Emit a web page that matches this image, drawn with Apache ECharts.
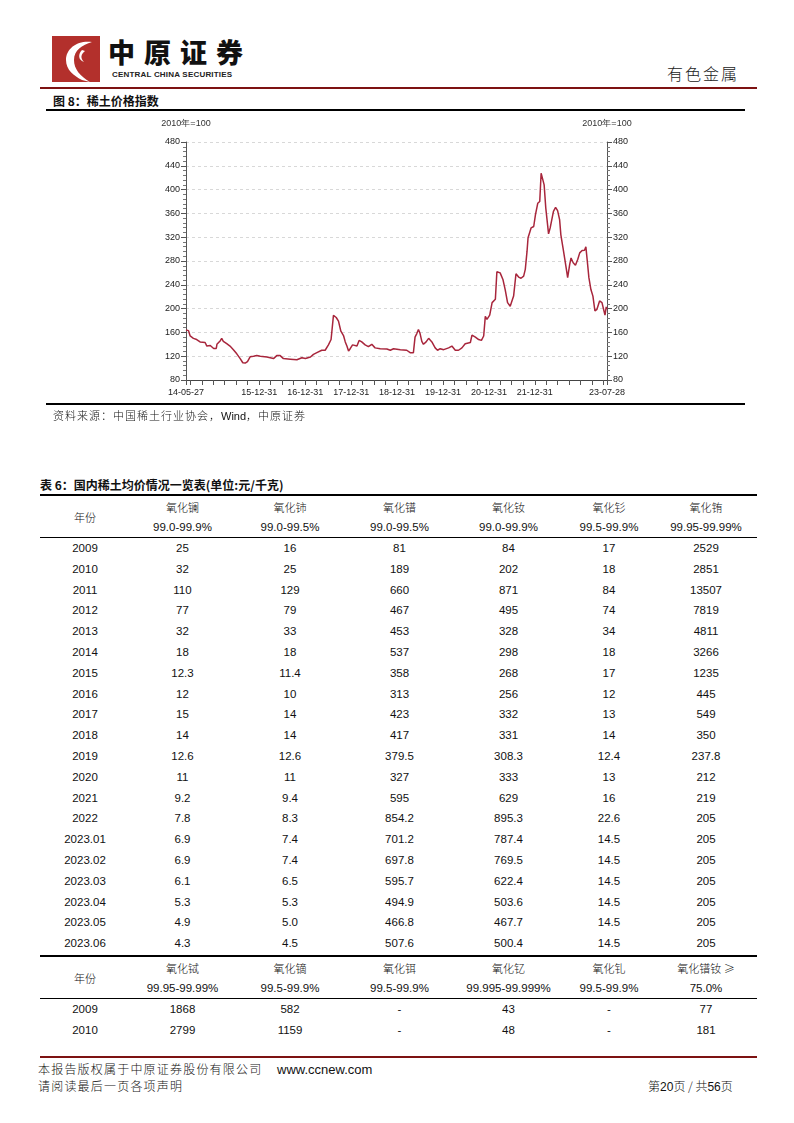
<!DOCTYPE html>
<html>
<head>
<meta charset="utf-8">
<script src="https://cdn.jsdelivr.net/npm/echarts@6/dist/echarts.min.js"></script>
<style>
  html, body { margin: 0; padding: 0; background: #fff; }
  #page { position: relative; width: 794px; height: 1123px; overflow: hidden; font-family: "Liberation Sans", Arial, sans-serif; color: #111; }
  .abs { position: absolute; white-space: nowrap; line-height: 1; }
  .cjk { font-family: "Noto Sans CJK SC", sans-serif; }
  .hline { position: absolute; height: 0; }
  .cell { position: absolute; text-align: center; font-size: 11.5px; }
  .cname { position: absolute; text-align: center; font-size: 11px; font-family: "Noto Sans CJK SC", sans-serif; font-weight: 300; }
  #chart { position: absolute; left: 140px; top: 110px; width: 520px; height: 300px; }
</style>
</head>
<body>
<div id="page">
  <!-- 页眉 -->
  <svg class="abs" style="left:52px;top:36px" width="48" height="46" viewBox="0 0 48 46">
    <rect width="48" height="46" fill="#b3302c"/>
    <path d="M40 6 C26 4 14 12 14 24 C14 34 22 40 30 44 L38 46 C28 40 22 33 22 24 C22 14 30 9 40 6 Z" fill="#fff"/>
    <path d="M30 14 C26 18 26 24 32 26 C28 22 29 18 33 15 Z" fill="#fff"/>
  </svg>
  <div class="abs cjk" style="left:108px;top:37px;font-size:27px;line-height:30px;font-weight:900;letter-spacing:9px;color:#111">中原证券</div>
  <div class="abs" style="left:112px;top:71px;font-size:8px;font-weight:bold;letter-spacing:0.2px;color:#222">CENTRAL CHINA SECURITIES</div>
  <div class="abs cjk" style="left:667px;top:65px;font-size:16px;font-weight:300;letter-spacing:2px;color:#222">有色金属</div>
  <div class="hline" style="left:40px;top:87px;width:717px;border-top:2px solid #7d1212"></div>

  <!-- 图 8 -->
  <div class="abs cjk" style="left:53px;top:95px;font-size:12px;font-weight:bold">图 8：稀土价格指数</div>
  <div class="hline" style="left:46px;top:109px;width:699px;border-top:2px solid #000"></div>
  <div id="chart"></div>
  <div class="hline" style="left:46px;top:403px;width:699px;border-top:2px solid #000"></div>
  <div class="abs cjk" style="left:53px;top:410px;font-size:11px;font-weight:300;letter-spacing:1px">资料来源：中国稀土行业协会，<span style="font-family:'Liberation Sans';letter-spacing:0">Wind</span>，中原证券</div>

  <!-- 表 6 -->
  <div class="abs cjk" style="left:40px;top:479px;font-size:12px;font-weight:bold">表 6：国内稀土均价情况一览表(单位:元/千克)</div>
  <div id="tables"></div>

  <!-- 页脚 -->
  <div class="hline" style="left:40px;top:1056px;width:717px;border-top:2px solid #7d1212"></div>
  <div class="abs cjk" style="left:38px;top:1063px;font-size:12px;font-weight:300;letter-spacing:1.2px">本报告版权属于中原证券股份有限公司</div>
  <div class="abs" style="left:277px;top:1063px;font-size:13px">www.ccnew.com</div>
  <div class="abs cjk" style="left:38px;top:1080px;font-size:12px;font-weight:300;letter-spacing:1.2px">请阅读最后一页各项声明</div>
  <div class="abs cjk" style="left:648px;top:1080px;font-size:12px;font-weight:300">第<span style="font-family:'Liberation Sans'">20</span>页 / 共<span style="font-family:'Liberation Sans'">56</span>页</div>
</div>

<script>
// 稀土价格指数（2010年=100）
var priceDates = [
  '2014-05-27','2014-06-16','2014-06-29','2014-07-25','2014-08-20','2014-09-16','2014-10-26','2014-11-09',
  '2014-12-06','2014-12-19','2015-01-02','2015-01-23','2015-01-28','2015-02-24','2015-03-07','2015-03-20',
  '2015-04-16','2015-05-12','2015-06-08','2015-07-05','2015-08-01','2015-08-22','2015-09-10','2015-09-28',
  '2015-10-19','2015-11-15','2015-12-11','2016-01-08','2016-03-01','2016-04-22','2016-05-18','2016-06-14',
  '2016-07-10','2016-09-03','2016-10-25','2016-12-04','2017-01-01','2017-02-10','2017-03-06','2017-04-02',
  '2017-05-11','2017-06-07','2017-07-03','2017-07-24','2017-08-12','2017-08-20','2017-09-03','2017-09-21',
  '2017-10-10','2017-11-01','2017-11-14','2017-11-27','2017-12-10','2017-12-23','2018-01-11','2018-01-25',
  '2018-02-15','2018-03-04','2018-03-25','2018-04-21','2018-05-17','2018-06-13','2018-07-09','2018-08-19',
  '2018-10-11','2018-11-07','2018-12-03','2019-01-26','2019-03-18','2019-04-14','2019-04-27','2019-05-10',
  '2019-05-23','2019-06-06','2019-06-19','2019-07-02','2019-07-16','2019-07-29','2019-08-19','2019-09-08',
  '2019-10-04','2019-10-30','2019-11-18','2019-12-09','2020-01-06','2020-02-14','2020-03-11','2020-04-07',
  '2020-05-03','2020-05-30','2020-06-25','2020-08-05','2020-08-18','2020-09-14','2020-10-10','2020-11-01',
  '2020-11-19','2020-12-02','2020-12-15','2021-01-06','2021-01-25','2021-02-20','2021-03-04','2021-03-30',
  '2021-04-21','2021-05-09','2021-05-28','2021-06-18','2021-07-02','2021-07-15','2021-08-03','2021-08-24',
  '2021-09-12','2021-10-03','2021-10-16','2021-10-30','2021-11-07','2021-11-20','2021-12-01','2021-12-22',
  '2022-01-05','2022-01-23','2022-02-08','2022-02-19','2022-03-05','2022-03-15','2022-03-28','2022-04-19',
  '2022-05-02','2022-05-15','2022-05-28','2022-06-14','2022-06-30','2022-07-16','2022-07-26','2022-08-12',
  '2022-08-25','2022-09-08','2022-09-18','2022-10-04','2022-10-15','2022-11-01','2022-11-19','2022-12-07',
  '2022-12-23','2023-01-11','2023-01-30','2023-02-10','2023-02-20','2023-03-06','2023-03-22','2023-04-07',
  '2023-04-23','2023-05-09','2023-05-30','2023-06-18','2023-07-01','2023-07-12','2023-07-22','2023-07-28'
];
var priceIndex = [
  164, 163, 154, 150, 148, 144, 143, 137,
  138, 139, 133, 133, 140, 146, 150, 145,
  141, 137, 131, 124, 116, 109, 108.5, 111,
  119, 120, 121, 120, 118.6, 116, 121, 121,
  116, 115, 114, 117.5, 116, 118.6, 123, 126,
  130, 130, 139, 148, 188.5, 189, 185, 179,
  162, 154, 144, 137, 128.7, 132.6, 139, 136.5,
  137, 146.5, 144, 139, 136, 140, 134, 132.6,
  132, 130, 132.6, 131, 130, 126, 124, 126,
  152, 158, 165, 158, 145, 140, 144, 150,
  144, 134, 130, 132.6, 131, 134, 137, 130,
  130, 134, 141, 143, 155.5, 152, 148, 146.6,
  154, 187, 182, 189, 210, 215.6, 262, 260,
  249, 232, 210, 204, 201.6, 221, 258.6, 253,
  251, 254.7, 266, 296.5, 319, 316, 335.6, 338,
  358, 377, 380, 427.6, 428.7, 408, 369, 325.5,
  335.6, 338, 363.5, 370, 364.6, 349.5, 324, 302,
  285, 266, 252, 274, 285, 277, 273, 282.6,
  293.7, 297.6, 298, 303.8, 282.6, 252, 232, 221,
  196, 198.8, 212.8, 210, 208, 189, 202.8, 199
];
var xStart = '2014-05-27';
var xEnd = '2023-07-28';
var xLabelDates = ['2014-05-27','2015-12-31','2016-12-31','2017-12-31','2018-12-31','2019-12-31','2020-12-31','2021-12-31','2023-07-28'];
var quarterEnds = ['06-30','09-30','12-31','03-31'];
var yMin = 80, yMax = 480, yStep = 40;
var unitName = '2010年=100';

// 表 6 数据
var yearsA = ['2009','2010','2011','2012','2013','2014','2015','2016','2017','2018','2019','2020','2021','2022','2023.01','2023.02','2023.03','2023.04','2023.05','2023.06'];
var namesA = ['氧化镧','氧化铈','氧化镨','氧化钕','氧化钐','氧化铕'];
var purityA = ['99.0-99.9%','99.0-99.5%','99.0-99.5%','99.0-99.9%','99.5-99.9%','99.95-99.99%'];
var la2o3 = ['25','32','110','77','32','18','12.3','12','15','14','12.6','11','9.2','7.8','6.9','6.9','6.1','5.3','4.9','4.3'];
var ceo2 = ['16','25','129','79','33','18','11.4','10','14','14','12.6','11','9.4','8.3','7.4','7.4','6.5','5.3','5.0','4.5'];
var pr6o11 = ['81','189','660','467','453','537','358','313','423','417','379.5','327','595','854.2','701.2','697.8','595.7','494.9','466.8','507.6'];
var nd2o3 = ['84','202','871','495','328','298','268','256','332','331','308.3','333','629','895.3','787.4','769.5','622.4','503.6','467.7','500.4'];
var sm2o3 = ['17','18','84','74','34','18','17','12','13','14','12.4','13','16','22.6','14.5','14.5','14.5','14.5','14.5','14.5'];
var eu2o3 = ['2529','2851','13507','7819','4811','3266','1235','445','549','350','237.8','212','219','205','205','205','205','205','205','205'];

var yearsB = ['2009','2010'];
var namesB = ['氧化铽','氧化镝','氧化铒','氧化钇','氧化钆','氧化镨钕 ≥'];
var purityB = ['99.95-99.99%','99.5-99.9%','99.5-99.9%','99.995-99.999%','99.5-99.9%','75.0%'];
var tb4o7 = ['1868','2799'];
var dy2o3 = ['582','1159'];
var er2o3 = ['-','-'];
var y2o3 = ['43','48'];
var gd2o3 = ['-','-'];
var prnd = ['77','181'];

function toTs(s) {
  var p = s.split('-');
  return new Date(+p[0], +p[1] - 1, +p[2]).getTime();
}

// 季末刻度
var tickValues = [toTs(xStart)];
for (var y = 2014; y <= 2023; y++) {
  for (var q = 0; q < 4; q++) {
    var yr = q === 3 ? y + 1 : y;
    var t = toTs(yr + '-' + quarterEnds[q]);
    if (t > toTs(xStart) && t < toTs(xEnd)) tickValues.push(t);
  }
}
tickValues.push(toTs(xEnd));
tickValues.sort(function (a, b) { return a - b; });

var seriesData = priceDates.map(function (d, i) { return [toTs(d), priceIndex[i]]; });

function pad(n) { return n < 10 ? '0' + n : '' + n; }
function fmtDate(v) {
  var d = new Date(v);
  return pad(d.getFullYear() % 100) + '-' + pad(d.getMonth() + 1) + '-' + pad(d.getDate());
}

var axisLabelStyle = { fontSize: 9, color: '#222', fontFamily: 'Liberation Sans' };

function makeY(pos) {
  return {
    type: 'value', position: pos, min: yMin, max: yMax, interval: yStep,
    name: unitName, nameLocation: 'end', nameGap: 14,
    nameTextStyle: { fontSize: 9, color: '#333', fontFamily: 'Liberation Sans', align: 'center' },
    axisLine: { show: true, lineStyle: { color: '#555', width: 1 } },
    axisTick: { show: true, length: 5, lineStyle: { color: '#555' } },
    minorTick: { show: true, splitNumber: 5, length: 3, lineStyle: { color: '#777' } },
    axisLabel: Object.assign({ margin: 6 }, axisLabelStyle),
    splitLine: { show: pos === 'left', lineStyle: { color: '#d8d8d8', type: [3, 3], width: 1 } }
  };
}

var myChart = echarts.init(document.getElementById('chart'), null, { renderer: 'canvas' });
myChart.setOption({
  animation: false,
  grid: { left: 46, right: 53, top: 32, bottom: 30 },
  xAxis: {
    type: 'value',
    min: toTs(xStart), max: toTs(xEnd),
    axisLine: { lineStyle: { color: '#444', width: 1 } },
    axisTick: { show: true, length: 5, customValues: tickValues, lineStyle: { color: '#555' } },
    axisLabel: Object.assign({
      margin: 8,
      customValues: xLabelDates.map(toTs),
      formatter: function (v) { return fmtDate(v); }
    }, axisLabelStyle),
    splitLine: { show: false }
  },
  yAxis: [makeY('left'), makeY('right')],
  series: [{
    type: 'line',
    data: seriesData,
    showSymbol: false,
    lineStyle: { color: '#a8263c', width: 1.5 },
    itemStyle: { color: '#a8263c' }
  }]
});

// 表格
var colLeft = [40, 130, 235, 345, 454, 563, 655];
var colRight = [130, 235, 345, 454, 563, 655, 757];
var box = document.getElementById('tables');

function addText(cls, text, ci, cy, h) {
  var el = document.createElement('div');
  el.className = cls;
  el.style.left = colLeft[ci] + 'px';
  el.style.width = (colRight[ci] - colLeft[ci]) + 'px';
  el.style.top = (cy - h / 2) + 'px';
  el.style.height = h + 'px';
  el.style.lineHeight = h + 'px';
  el.textContent = text;
  box.appendChild(el);
}
function addLine(y, w) {
  var el = document.createElement('div');
  el.className = 'hline';
  el.style.left = '40px';
  el.style.width = '717px';
  el.style.top = y + 'px';
  el.style.borderTop = w + 'px solid #000';
  box.appendChild(el);
}
function drawTable(top, names, purity, years, cols) {
  addLine(top, 2);
  addText('cname', '年份', 0, top + 23, 18);
  for (var i = 0; i < names.length; i++) {
    addText('cname', names[i], i + 1, top + 13, 18);
    addText('cell', purity[i], i + 1, top + 33, 18);
  }
  addLine(top + 43, 1.5);
  for (var r = 0; r < years.length; r++) {
    var cy = top + 54 + r * 20.8;
    addText('cell', years[r], 0, cy, 20);
    for (var c = 0; c < cols.length; c++) addText('cell', cols[c][r], c + 1, cy, 20);
  }
}
drawTable(494, namesA, purityA, yearsA, [la2o3, ceo2, pr6o11, nd2o3, sm2o3, eu2o3]);
drawTable(955, namesB, purityB, yearsB, [tb4o7, dy2o3, er2o3, y2o3, gd2o3, prnd]);
</script>
</body>
</html>
